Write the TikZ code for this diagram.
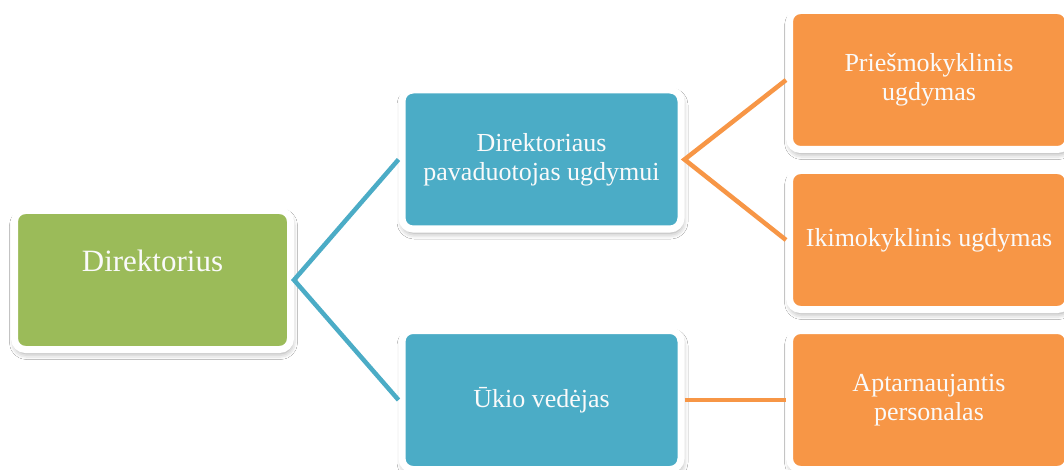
\documentclass[tikz,border=0pt]{standalone}
\usepackage{fontspec}
\setmainfont{Liberation Serif}
\usetikzlibrary{shadows.blur}
\definecolor{boxgreen}{HTML}{9BBB59}
\definecolor{boxblue}{HTML}{4BACC6}
\definecolor{boxorange}{HTML}{F79646}
\definecolor{txtwhite}{HTML}{FAFAFA}
\tikzset{
  orgbox/.style={rectangle, rounded corners=11pt, draw=white, line width=7pt,
    minimum width=279pt, minimum height=139pt, inner sep=0pt,
    text=txtwhite, align=center, font=\rmfamily\fontsize{26}{29}\selectfont,
    blur shadow={shadow xshift=1pt, shadow yshift=-4pt, shadow blur radius=6pt, shadow opacity=40}},
  greenbox/.style={orgbox, fill=boxgreen, minimum width=276pt},
  bluebox/.style={orgbox, fill=boxblue},
  orangebox/.style={orgbox, fill=boxorange},
  blueline/.style={draw=boxblue, line width=4.5pt},
  orangeline/.style={draw=boxorange, line width=4.5pt},
}
\begin{document}
\begin{tikzpicture}[x=1pt, y=-1pt]
\useasboundingbox[fill=white] (0,0) rectangle (1064,470);
\node[greenbox] (dir) at (152.5,280) {};
\node[text=txtwhite, font=\rmfamily\fontsize{31}{35}\selectfont] (dirtext) at (152.5,261) {Direktorius};
\node[bluebox] (pav) at (541.5,159.5) {Direktoriaus\\pavaduotojas ugdymui};
\node[bluebox] (uk) at (541.5,400) {Ūkio vedėjas};
\node[orangebox] (pries) at (929,80) {Priešmokyklinis\\ugdymas};
\node[orangebox] (iki) at (929,240) {Ikimokyklinis ugdymas};
\node[orangebox] (apt) at (929,400) {Aptarnaujantis\\personalas};
\draw[blueline] (pav.west) -- (dir.east) -- (uk.west);
\draw[orangeline] (pries.west) -- (pav.east) -- (iki.west);
\draw[orangeline] (uk.east) -- (apt.west);
\end{tikzpicture}
\end{document}
